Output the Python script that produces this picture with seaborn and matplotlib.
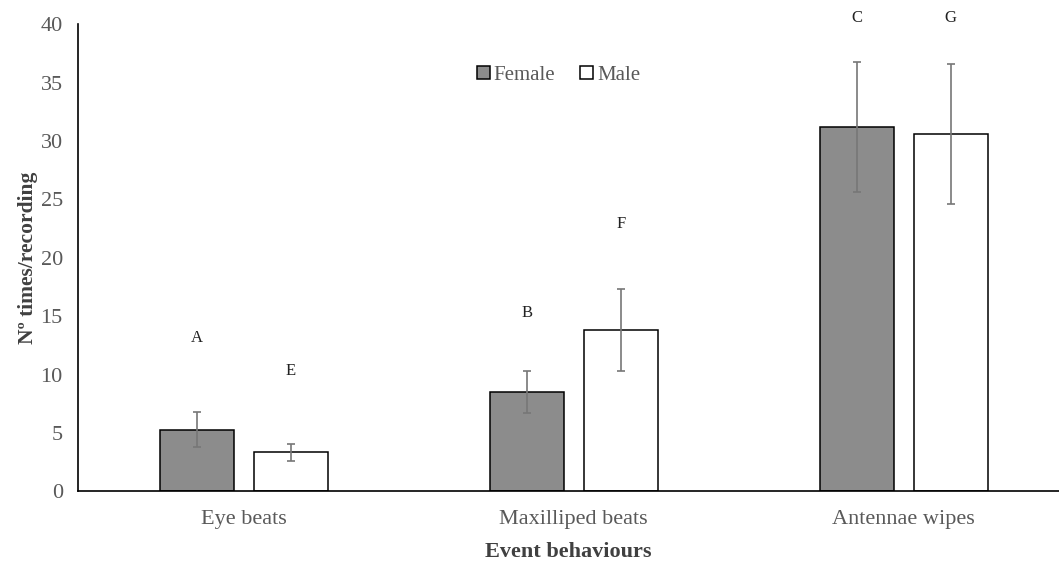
import pandas as pd
import numpy as np
import matplotlib
matplotlib.use("Agg")
import matplotlib.pyplot as plt
import seaborn as sns

# values
behaviours = ["Eye beats", "Maxilliped beats", "Antennae wipes"]
sexes = ["Female", "Male"]
female_mean = [5.3, 8.5, 31.2]
male_mean = [3.35, 13.8, 30.6]
female_err = [1.5, 1.8, 5.6]
male_err = [0.75, 3.5, 6.0]
female_letters = ["A", "B", "C"]
male_letters = ["E", "F", "G"]
female_letter_y = [13.1, 15.3, 40.5]
male_letter_y = [10.3, 22.9, 40.5]

df = pd.DataFrame({
    "Behaviour": behaviours * 2,
    "Sex": ["Female"] * 3 + ["Male"] * 3,
    "Mean": female_mean + male_mean,
    "Err": female_err + male_err,
    "Letter": female_letters + male_letters,
    "LetterY": female_letter_y + male_letter_y,
})

sns.set_style("white")
plt.rcParams["font.family"] = ["Liberation Serif", "DejaVu Serif"]

fig = plt.figure(figsize=(10.59, 5.63), dpi=100)
ax = fig.add_axes([0.0737, 0.127, 0.926, 0.830])

sns.barplot(data=df, x="Behaviour", y="Mean", hue="Sex", order=behaviours,
            hue_order=sexes, palette={"Female": "#8c8c8c", "Male": "white"},
            width=0.57, gap=0.21, errorbar=None, edgecolor="black",
            linewidth=1.1, ax=ax)

# error bars and letters at each bar centre
offset = 0.57 / 4
for i, sex in enumerate(sexes):
    sub = df[df["Sex"] == sex].set_index("Behaviour").loc[behaviours]
    xs = np.arange(len(behaviours)) + (i - 0.5) * 2 * offset
    ax.errorbar(xs, sub["Mean"], yerr=sub["Err"], fmt="none",
                ecolor="#777777", elinewidth=1.2, capsize=3, capthick=1.2)
    for x, y, t in zip(xs, sub["LetterY"], sub["Letter"]):
        ax.text(x, y, t, ha="center", va="center", fontsize=12, color="#222222")

ax.set_xlim(-0.503, 2.47)
ax.set_ylim(0, 40)
ax.set_yticks(range(0, 41, 5))
ax.tick_params(axis="both", length=0, labelsize=16, colors="#595959")
ax.tick_params(axis="y", pad=11)
ax.tick_params(axis="x", pad=13)
for s in ["top", "right"]:
    ax.spines[s].set_visible(False)
for s in ["left", "bottom"]:
    ax.spines[s].set_color("black")
    ax.spines[s].set_linewidth(1.2)

ax.set_xlabel("Event behaviours", fontsize=16, fontweight="bold", color="#404040", labelpad=10)
ax.set_ylabel("Nº times/recording", fontsize=15.5, fontweight="bold", color="#404040", labelpad=2)

ax.legend(loc="center", bbox_to_anchor=(0.49, 0.89), ncol=2, frameon=False,
          fontsize=15, handlelength=0.6, handleheight=0.6, handletextpad=0.2,
          columnspacing=1.2, labelcolor="#595959")

fig.savefig("out.png", dpi=100)
